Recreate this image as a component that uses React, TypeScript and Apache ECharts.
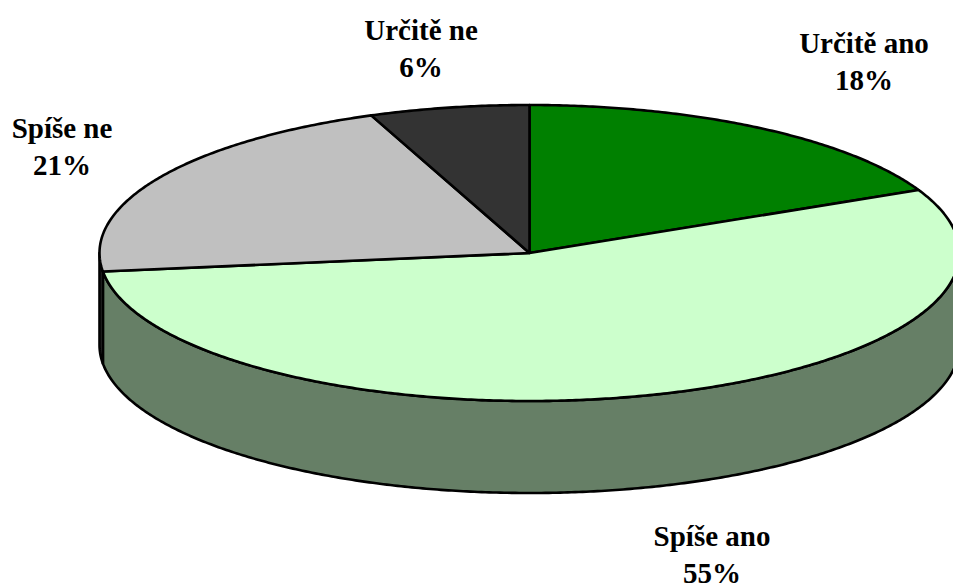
import React, { useEffect, useRef } from "react";
import * as echarts from "echarts";

const categories = ["Určitě ano", "Spíše ano", "Spíše ne", "Určitě ne"];
const values = [18, 55, 21, 6];
const topColors = ["#008000", "#CCFFCC", "#C0C0C0", "#333333"];
const sideColors = ["#004000", "#667F66", "#303030", "#1A1A1A"];
const labelCenters = [
  [864, 61.5],
  [712, 554],
  [62, 146],
  [421, 48],
];

const CX = 529.5;
const CY = 253;
const RX = 430;
const RY = 148;
const DEPTH = 92;

const total = values.reduce((a, b) => a + b, 0);
let running = 0;
const rows = values.map((v) => {
  const row = [v, running];
  running += v;
  return row;
});

const pt = (deg: number, dy = 0): number[] => {
  const a = (deg * Math.PI) / 180;
  return [CX + RX * Math.sin(a), CY - RY * Math.cos(a) + dy];
};

const arc = (from: number, to: number, dy = 0): number[][] => {
  const n = Math.max(2, Math.ceil((to - from) * 2));
  const out: number[][] = [];
  for (let i = 0; i <= n; i++) out.push(pt(from + ((to - from) * i) / n, dy));
  return out;
};

const edge = { stroke: "#000000", lineWidth: 2.6, lineJoin: "round" as const };

const renderSide = (params: any, api: any) => {
  const start = (api.value(1) / total) * 360;
  const end = start + (api.value(0) / total) * 360;
  const from = Math.max(start, 90);
  const to = Math.min(end, 270);
  if (to <= from) return { type: "group", children: [] };
  const points = [...arc(from, to), ...arc(from, to, DEPTH).reverse()];
  return {
    type: "polygon",
    shape: { points },
    style: { fill: sideColors[params.dataIndex], ...edge },
  };
};

const renderTop = (params: any, api: any) => {
  const start = (api.value(1) / total) * 360;
  const end = start + (api.value(0) / total) * 360;
  return {
    type: "polygon",
    shape: { points: [[CX, CY], ...arc(start, end)] },
    style: { fill: topColors[params.dataIndex], ...edge },
  };
};

export default function App() {
  const ref = useRef<HTMLDivElement>(null);
  useEffect(() => {
    const chart = echarts.init(ref.current!, null, { renderer: "svg" });
    chart.setOption({
      animation: false,
      backgroundColor: "#FFFFFF",
      series: [
        {
          type: "custom",
          coordinateSystem: "none",
          silent: true,
          clip: false,
          z: 1,
          data: rows,
          renderItem: renderSide,
        },
        {
          type: "custom",
          coordinateSystem: "none",
          silent: true,
          clip: false,
          z: 2,
          data: rows,
          renderItem: renderTop,
        },
      ],
      graphic: categories.map((c, i) => ({
        type: "text",
        x: labelCenters[i][0],
        y: labelCenters[i][1],
        z: 10,
        style: {
          text: `${c}\n${values[i]}%`,
          fill: "#000000",
          font: 'bold 29px "Liberation Serif"',
          lineHeight: 37,
          textAlign: "center",
          textVerticalAlign: "middle",
        },
      })),
    });
    return () => chart.dispose();
  }, []);
  return (
    <div
      ref={ref}
      style={{ position: "absolute", left: 0, top: 0, width: 953, height: 583, overflow: "hidden" }}
    />
  );
}
